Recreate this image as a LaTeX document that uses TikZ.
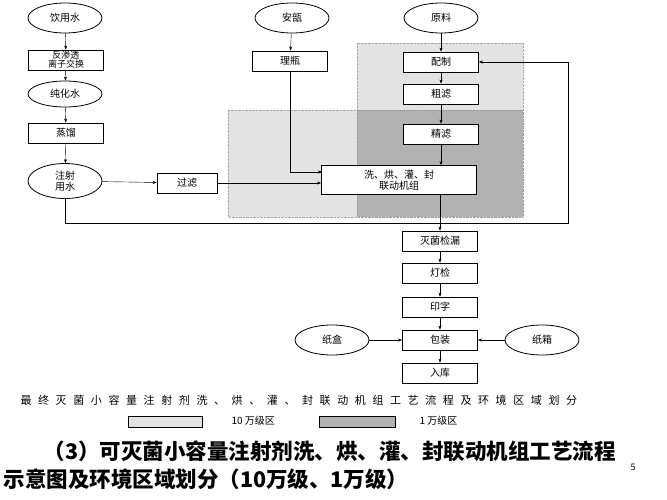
\documentclass[tikz,border=0pt]{standalone}
\usepackage{fontspec}
\setmainfont{Noto Sans CJK SC}
\usetikzlibrary{arrows.meta,shapes.geometric}
\newcommand\gp{\hskip 6.6pt}
\begin{document}
\begin{tikzpicture}[x=1pt, y=-1pt, >={Stealth[length=4pt]},
  box/.style = {draw, thick, fill=white, minimum width=75pt, minimum height=20pt, font=\fontsize{10}{11}\selectfont, inner sep=1pt},
  src/.style = {draw, thick, ellipse, fill=white, minimum width=74pt, minimum height=30pt, font=\fontsize{10}{11}\selectfont, align=center, inner sep=0pt},
  light/.style = {fill=gray!22, draw=gray!70, densely dotted},
  dark/.style = {fill=gray!60, draw=gray!80, densely dotted}]
\useasboundingbox (0,0) rectangle (667,500);
% clean zones
\path[light] (357,43) rectangle (523,110);
\path[light] (228,110) rectangle (357,217);
\path[dark] (357,110) rectangle (523,217);
% water line
\node[src] (1) at (65,18) {饮用水};
\node[box, align=center, font=\fontsize{9}{9}\selectfont] (2) at (66,60) {反渗透\\离子交换};
\node[src, minimum height=26pt] (3) at (65,94) {纯化水};
\node[box] (4) at (66,133) {蒸馏};
\node[src, minimum height=35pt] (5) at (65,181) {注射\\用水};
\node[box, minimum width=60pt] (6) at (187,183) {过滤};
% bottles
\node[src] (7) at (292,18) {安瓿};
\node[box] (8) at (290,61) {理瓶};
% raw material
\node[src] (9) at (441,18) {原料};
\node[box] (10) at (441,62) {配制};
\node[box] (11) at (441,94) {粗滤};
\node[box] (12) at (441,134) {精滤};
\node[box, minimum width=155pt, minimum height=29pt, align=center] (13) at (399,180) {洗、烘、灌、封\\联动机组};
% after filling
\node[box] (14) at (440,241) {灭菌检漏};
\node[box] (15) at (440,273) {灯检};
\node[box] (16) at (440,307) {印字};
\node[box] (17) at (440,340) {包装};
\node[box] (18) at (440,373) {入库};
\node[src] (19) at (332,340) {纸盒};
\node[src] (20) at (542,340) {纸箱};
\draw[->] (1) -- (2);
\draw[->] (2) -- (3);
\draw[->] (3) -- (4);
\draw[->] (4) -- (5);
\draw[->] (5) -- (6);
\draw[->] (6.east) -- (6.east -| 13.west);
\draw[->] (8) |- (322,172);
\draw[->] (7) -- (8);
\draw[->] (9) -- (10);
\draw[->] (10) -- (11);
\draw[->] (11) -- (12);
\draw[->] (12) -- (12 |- 13.north);
\draw[->] (13.south -| 14) -- (14);
\draw[->] (5.south) |- (568,223) |- (10.east);
\draw[->] (14) -- (15);
\draw[->] (15) -- (16);
\draw[->] (16) -- (17);
\draw[->] (17) -- (18);
\draw[->] (19) -- (17);
\draw[->] (20) -- (17);
% caption and legend
\node[font=\fontsize{11}{11}\selectfont, anchor=west] (21) at (17,400) {最\gp 终\gp 灭\gp 菌\gp 小\gp 容\gp 量\gp 注\gp 射\gp 剂\gp 洗\gp 、\gp 烘\gp 、\gp 灌\gp 、\gp 封\gp 联\gp 动\gp 机\gp 组\gp 工\gp 艺\gp 流\gp 程\gp 及\gp 环\gp 境\gp 区\gp 域\gp 划\gp 分};
\path[light, draw=black, solid] (128,416) rectangle (202,427);
\node[font=\fontsize{10}{10}\selectfont, anchor=west] (22) at (228,421) {10 万级区};
\path[dark, draw=black, solid] (319,416) rectangle (395,427);
\node[font=\fontsize{10}{10}\selectfont, anchor=west] (23) at (416,421) {1 万级区};
\node[font=\fontsize{21.5}{22}\bfseries\selectfont, anchor=west] (24) at (40,451) {（3）可灭菌小容量注射剂洗、烘、灌、封联动机组工艺流程};
\node[font=\fontsize{21.5}{22}\bfseries\selectfont, anchor=west] (25) at (0,479) {示意图及环境区域划分（10万级、1万级）};
\node[font=\fontsize{9}{9}\selectfont] (26) at (633,467) {5};
\end{tikzpicture}
\end{document}
